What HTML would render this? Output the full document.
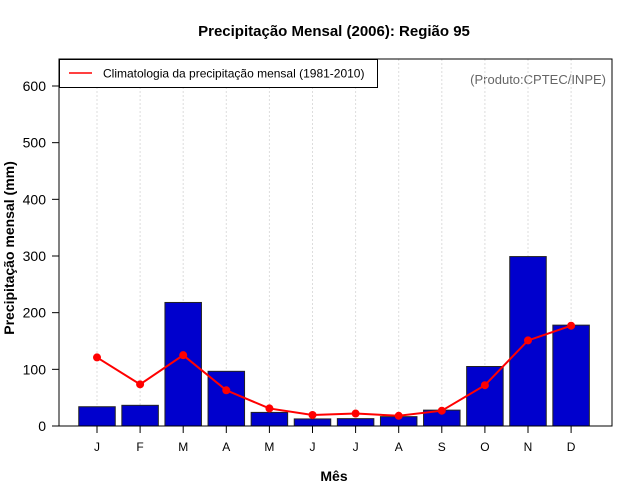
<!DOCTYPE html>
<html><head><meta charset="utf-8"><style>
body{margin:0;background:#fff}
svg{display:block;font-family:"Liberation Sans",sans-serif}
</style></head><body>
<svg id="c" width="640" height="500">
<text x="334" y="36" text-anchor="middle" font-weight="bold" font-size="15">Precipitação Mensal (2006): Região 95</text>
<text x="14" y="248" text-anchor="middle" font-weight="bold" font-size="14" transform="rotate(-90 14 248)">Precipitação mensal (mm)</text>
<text x="334" y="481" text-anchor="middle" font-weight="bold" font-size="14">Mês</text>
<text x="606" y="84" text-anchor="end" font-size="13" fill="#666">(Produto:CPTEC/INPE)</text>
<g id="grid"></g><g id="bars"></g><g id="line"></g><g id="axes"></g>
<rect x="59" y="59" width="553" height="367" fill="none" stroke="#000" stroke-width="1"/>
<g>
<rect x="59.5" y="59.5" width="318" height="28" fill="#fff" stroke="#000"/>
<line x1="69" y1="73" x2="92" y2="73" stroke="red" stroke-width="1.5"/>
<text x="103" y="77.5" font-size="12">Climatologia da precipitação mensal (1981-2010)</text>
</g>
</svg>
<script>
const months=["J","F","M","A","M","J","J","A","S","O","N","D"];
const precip2006=[34,36.5,218,96.5,24,12.5,13,16.5,28,105,299,178];
const climatology=[121,73.5,125,63,31,19.5,22,18,27,72,151,177];
const yTicks=[0,100,200,300,400,500,600];
const NS="http://www.w3.org/2000/svg";
const x0=97,dx=43.1,bw=36.5;
const xs=i=>x0+i*dx;
const ys=v=>426-v*(340/600);
function mk(t,a,p){const e=document.createElementNS(NS,t);for(const k in a)e.setAttribute(k,a[k]);document.getElementById(p).appendChild(e);return e;}
months.forEach((m,i)=>{
 const g=mk("line",{x1:xs(i),x2:xs(i),y1:59,y2:426,stroke:"#ddd","stroke-dasharray":"2,2"},"grid");
 
 
 const t=mk("line",{x1:xs(i),x2:xs(i),y1:426,y2:433,stroke:"#000"},"axes");
 
 
 const l=mk("text",{x:xs(i),y:451,"text-anchor":"middle","font-size":"12"},"axes");l.textContent=m;
 
 
});
yTicks.forEach(v=>{
 const t=mk("line",{x1:52,x2:59,y1:ys(v),y2:ys(v),stroke:"#000"},"axes");
 
 
 const l=mk("text",{x:46,y:ys(v)+5,"text-anchor":"end","font-size":"14"},"axes");l.textContent=v;
 
 
});
precip2006.forEach((v,i)=>{
 const b=mk("rect",{x:xs(i)-bw/2,y:ys(v),width:bw,height:426-ys(v),fill:"#0000cd",stroke:"#222","stroke-width":"1"},"bars");
 
 
});
const pl=mk("polyline",{points:climatology.map((v,i)=>xs(i)+","+ys(v)).join(" "),fill:"none",stroke:"red","stroke-width":"2"},"line");


climatology.forEach((v,i)=>{
 const c=mk("circle",{cx:xs(i),cy:ys(v),r:4,fill:"red"},"line");
 
 
});
</script>
</body></html>
